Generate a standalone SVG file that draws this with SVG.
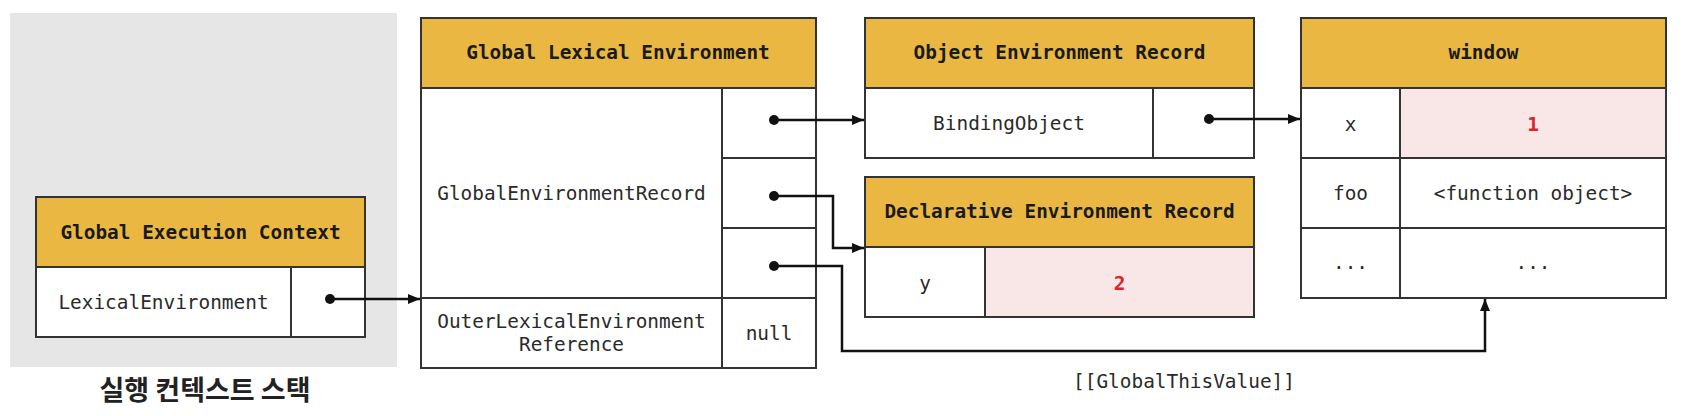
<svg xmlns="http://www.w3.org/2000/svg" width="1682" height="416" viewBox="0 0 1682 416">
<defs>
<style>
.box{fill:#ffffff;stroke:#333333;stroke-width:2}
.hdr{fill:#EAB842;stroke:#333333;stroke-width:2}
.pink{fill:#F9E7E7;stroke:#333333;stroke-width:2}
.ln{fill:none;stroke:#333333;stroke-width:2}
.t{font-family:"DejaVu Sans Mono","Liberation Mono",monospace;font-size:19.4px;fill:#2a2a2a;text-anchor:middle}
.h{font-family:"DejaVu Sans Mono","Liberation Mono",monospace;font-size:19.4px;font-weight:bold;fill:#1a1a1a;text-anchor:middle}
.r{font-family:"DejaVu Sans Mono","Liberation Mono",monospace;font-size:19.4px;font-weight:bold;fill:#D8262C;text-anchor:middle}
.c{fill:none;stroke:#111111;stroke-width:2.5}
.dot{fill:#111111}
</style>
<marker id="arr" markerUnits="userSpaceOnUse" markerWidth="14" markerHeight="12" refX="12" refY="5" orient="auto">
<path d="M0,0 L12,5 L0,10 z" fill="#111111"/>
</marker>
</defs>

<g id="stack">
<rect x="10" y="13" width="387" height="354" fill="#E7E6E6"/>
<text x="205" y="400" style="font-family:'Noto Sans CJK KR','Noto Sans',sans-serif;font-size:27px;font-weight:bold;fill:#222222;text-anchor:middle">실행 컨텍스트 스택</text>
</g>

<g id="global-execution-context">
<rect class="hdr" x="36" y="197" width="329" height="70"/>
<rect class="box" x="36" y="267" width="329" height="70"/>
<line class="ln" x1="291" y1="267" x2="291" y2="337"/>
<text class="h" x="200.5" y="239">Global Execution Context</text>
<text class="t" x="163.5" y="309">LexicalEnvironment</text>
</g>

<g id="global-lexical-environment">
<rect class="hdr" x="421" y="18" width="395" height="70"/>
<rect class="box" x="421" y="88" width="395" height="280"/>
<line class="ln" x1="722" y1="88" x2="722" y2="368"/>
<line class="ln" x1="722" y1="158" x2="816" y2="158"/>
<line class="ln" x1="722" y1="228" x2="816" y2="228"/>
<line class="ln" x1="421" y1="298" x2="816" y2="298"/>
<text class="h" x="618" y="59">Global Lexical Environment</text>
<text class="t" x="571.5" y="200">GlobalEnvironmentRecord</text>
<text class="t" x="571.5" y="328">OuterLexicalEnvironment</text>
<text class="t" x="571.5" y="351">Reference</text>
<text class="t" x="769" y="340">null</text>
</g>

<g id="object-environment-record">
<rect class="hdr" x="865" y="18" width="389" height="70"/>
<rect class="box" x="865" y="88" width="389" height="70"/>
<line class="ln" x1="1153" y1="88" x2="1153" y2="158"/>
<text class="h" x="1059.5" y="59">Object Environment Record</text>
<text class="t" x="1009" y="130">BindingObject</text>
</g>

<g id="declarative-environment-record">
<rect class="hdr" x="865" y="177" width="389" height="70"/>
<rect class="box" x="865" y="247" width="389" height="70"/>
<rect class="pink" x="985" y="247" width="269" height="70"/>
<text class="h" x="1059.5" y="218">Declarative Environment Record</text>
<text class="t" x="925" y="290">y</text>
<text class="r" x="1119.5" y="290">2</text>
</g>

<g id="window">
<rect class="hdr" x="1301" y="18" width="365" height="70"/>
<rect class="box" x="1301" y="88" width="365" height="210"/>
<rect class="pink" x="1400" y="88" width="266" height="70"/>
<line class="ln" x1="1400" y1="88" x2="1400" y2="298"/>
<line class="ln" x1="1301" y1="158" x2="1666" y2="158"/>
<line class="ln" x1="1301" y1="228" x2="1666" y2="228"/>
<text class="h" x="1483.5" y="59">window</text>
<text class="t" x="1350.5" y="131">x</text>
<text class="r" x="1533" y="131">1</text>
<text class="t" x="1350.5" y="200">foo</text>
<text class="t" x="1533" y="200">&lt;function object&gt;</text>
<text class="t" x="1350.5" y="269">...</text>
<text class="t" x="1533" y="269">...</text>
</g>

<g id="connectors">
<circle class="dot" cx="330" cy="299" r="5"/>
<path class="c" d="M330,299 H420" marker-end="url(#arr)"/>
<circle class="dot" cx="774" cy="120" r="5"/>
<path class="c" d="M774,120 H864" marker-end="url(#arr)"/>
<circle class="dot" cx="774" cy="196" r="5"/>
<path class="c" d="M774,196 H833 V248 H864" marker-end="url(#arr)"/>
<circle class="dot" cx="774" cy="266" r="5"/>
<path class="c" d="M774,266 H842 V351 H1485 V299" marker-end="url(#arr)"/>
<circle class="dot" cx="1209" cy="119" r="5"/>
<path class="c" d="M1209,119 H1300" marker-end="url(#arr)"/>
<text class="t" x="1184" y="388">[[GlobalThisValue]]</text>
</g>
</svg>
